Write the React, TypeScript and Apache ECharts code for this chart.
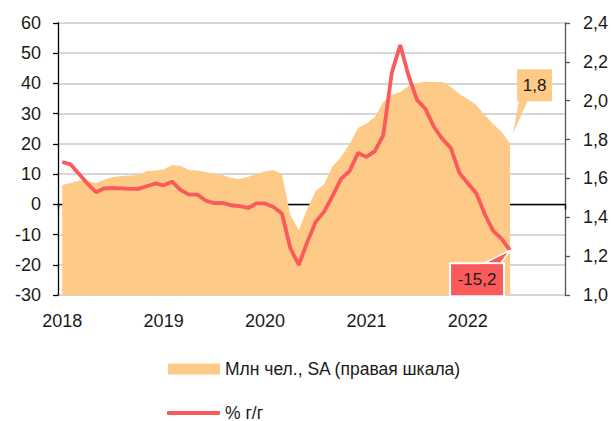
import React, { useEffect, useRef } from "react";
import * as echarts from "echarts";

const months: string[] = [];
for (let y = 2018; y <= 2022; y++) {
  for (let m = 1; m <= 12; m++) months.push(`${y}-${m < 10 ? "0" + m : m}`);
}

// Млн чел., SA (правая шкала)
const employed = [
  1.566, 1.576, 1.589, 1.587, 1.576, 1.595, 1.607, 1.612, 1.615, 1.618, 1.638, 1.641,
  1.646, 1.669, 1.664, 1.643, 1.641, 1.633, 1.623, 1.618, 1.602, 1.597, 1.609, 1.623,
  1.636, 1.643, 1.623, 1.412, 1.335, 1.444, 1.535, 1.571, 1.664, 1.71, 1.777, 1.86,
  1.883, 1.916, 1.993, 2.029, 2.045, 2.076, 2.091, 2.098, 2.096, 2.096, 2.07, 2.034,
  2.009, 1.978, 1.926, 1.88, 1.839, 1.781,
];

// % г/г
const yoy = [
  14.0, 13.2, 10.0, 6.8, 4.0, 5.3, 5.4, 5.3, 5.1, 5.1, 6.0, 6.9,
  6.3, 7.5, 4.8, 3.2, 3.2, 1.2, 0.4, 0.5, -0.3, -0.6, -1.2, 0.3,
  0.3, -0.9, -3.0, -14.6, -20.0, -12.5, -5.8, -2.4, 2.8, 8.4, 11.0, 17.0,
  15.7, 17.6, 22.9, 43.5, 52.7, 42.5, 34.5, 31.5, 25.6, 21.6, 18.6, 10.4,
  7.0, 3.7, -3.2, -8.8, -11.4, -15.2,
];

const leftTicks = { min: -30, max: 60, interval: 10 };
const rightTicks = { min: 1.0, max: 2.4, interval: 0.2 };
const seriesNames = ["Млн чел., SA (правая шкала)", "% г/г"];

const FONT = "Liberation Sans";
const TXT = "#1a1a1a";
const ORANGE = "#FECA87";
const RED = "#FA5A5A";

const fmt = (v: number) => v.toFixed(1).replace(".", ",");

export default function App() {
  const ref = useRef<HTMLDivElement>(null);
  useEffect(() => {
    if (!ref.current) return;
    const chart = echarts.init(ref.current, undefined, { renderer: "svg" });
    const yearLabel = (idx: number) => idx % 12 === 0;
    chart.setOption({
      animation: false,
      textStyle: { fontFamily: FONT },
      grid: { left: 58, right: 43, top: 23, bottom: 126 },
      legend: [
        {
          data: [{ name: seriesNames[0], icon: "rect" }],
          left: 163,
          top: 355,
          itemWidth: 52,
          itemHeight: 11,
          textStyle: { fontSize: 17.5, color: TXT, fontFamily: FONT },
        },
        {
          data: [{ name: seriesNames[1], icon: "roundRect" }],
          left: 162,
          top: 399,
          itemWidth: 53,
          itemHeight: 4,
          textStyle: { fontSize: 17.5, color: TXT, fontFamily: FONT },
        },
      ],
      xAxis: [
        {
          type: "category",
          data: months,
          boundaryGap: true,
          position: "bottom",
          axisLine: { show: true, onZero: true, lineStyle: { color: "#000", width: 1.3 } },
          axisTick: { show: true, interval: (i: number) => yearLabel(i), length: 5, lineStyle: { color: "#000", width: 1.3 } },
          axisLabel: { show: false },
          splitLine: { show: false },
        },
        {
          type: "category",
          data: months,
          boundaryGap: true,
          position: "bottom",
          axisLine: { show: false, onZero: false },
          axisTick: { show: false },
          axisLabel: {
            interval: (i: number) => yearLabel(i),
            formatter: (v: string) => v.slice(0, 4),
            fontSize: 18,
            color: TXT,
            margin: 17,
            fontFamily: FONT,
          },
          splitLine: { show: false },
        },
      ],
      yAxis: [
        {
          type: "value",
          ...leftTicks,
          position: "left",
          axisLine: { show: true, lineStyle: { color: "#000", width: 1.3 } },
          axisTick: { show: true, length: 5, lineStyle: { color: "#000", width: 1.3 } },
          axisLabel: { fontSize: 18, color: TXT, margin: 17, fontFamily: FONT },
          splitLine: { show: true, lineStyle: { color: "#c8c8c8", width: 1.5 } },
        },
        {
          type: "value",
          ...rightTicks,
          position: "right",
          axisLine: { show: true, lineStyle: { color: "#555", width: 1.3 } },
          axisTick: { show: true, length: 5, lineStyle: { color: "#555", width: 1.3 } },
          axisLabel: { fontSize: 18, color: TXT, margin: 18, fontFamily: FONT, formatter: (v: number) => fmt(v) },
          splitLine: { show: false },
        },
      ],
      series: [
        {
          name: seriesNames[0],
          type: "line",
          xAxisIndex: 0,
          yAxisIndex: 1,
          data: employed,
          showSymbol: false,
          symbol: "none",
          lineStyle: { width: 0, color: ORANGE },
          itemStyle: { color: ORANGE },
          areaStyle: { color: ORANGE, opacity: 1, origin: "start" },
          z: 1,
        },
        {
          name: seriesNames[1],
          type: "line",
          xAxisIndex: 0,
          yAxisIndex: 0,
          data: yoy,
          showSymbol: false,
          symbol: "none",
          lineStyle: { width: 3.8, color: RED },
          itemStyle: { color: RED },
          z: 3,
        },
      ],
    });

    const last = employed.length - 1;
    const pA = chart.convertToPixel({ xAxisIndex: 0, yAxisIndex: 1 }, [last, employed[last]]) as number[];
    const pL = chart.convertToPixel({ xAxisIndex: 0, yAxisIndex: 0 }, [last, yoy[last]]) as number[];

    const bA = { x: pA[0] + 7, y: pA[1] - 74, w: 35, h: 32 };
    const bL = { x: pL[0] - 60, y: pL[1] + 13, w: 54, h: 33 };

    chart.setOption({
      graphic: [
        {
          type: "polygon",
          shape: { points: [[bA.x + 2, bA.y + bA.h - 1], [bA.x + 11, bA.y + bA.h - 1], [pA[0] + 3, pA[1] - 10]] },
          style: { fill: ORANGE },
          z: 100,
        },
        {
          type: "rect",
          shape: { x: bA.x, y: bA.y, width: bA.w, height: bA.h },
          style: { fill: ORANGE },
          z: 100,
        },
        {
          type: "text",
          x: bA.x + bA.w / 2,
          y: bA.y + bA.h / 2,
          style: { text: fmt(employed[last]), fill: TXT, font: `17px '${FONT}'`, align: "center", verticalAlign: "middle" },
          z: 101,
        },
        {
          type: "polygon",
          shape: { points: [[bL.x + 32, bL.y + 1], [bL.x + 50, bL.y + 1], [pL[0], pL[1]]] },
          style: { fill: RED, stroke: "#fff", lineWidth: 1.5 },
          z: 100,
        },
        {
          type: "rect",
          shape: { x: bL.x, y: bL.y, width: bL.w, height: bL.h },
          style: { fill: RED, stroke: "#fff", lineWidth: 2 },
          z: 100,
        },
        {
          type: "rect",
          shape: { x: bL.x + 30, y: bL.y + 1.2, width: 22, height: 3 },
          style: { fill: RED },
          z: 100,
        },
        {
          type: "text",
          x: bL.x + bL.w / 2,
          y: bL.y + bL.h / 2,
          style: { text: fmt(yoy[last]), fill: TXT, font: `17px '${FONT}'`, align: "center", verticalAlign: "middle" },
          z: 101,
        },
      ],
    });

    return () => chart.dispose();
  }, []);
  return <div ref={ref} style={{ width: 611, height: 421, position: "absolute", left: 0, top: 0 }} />;
}
